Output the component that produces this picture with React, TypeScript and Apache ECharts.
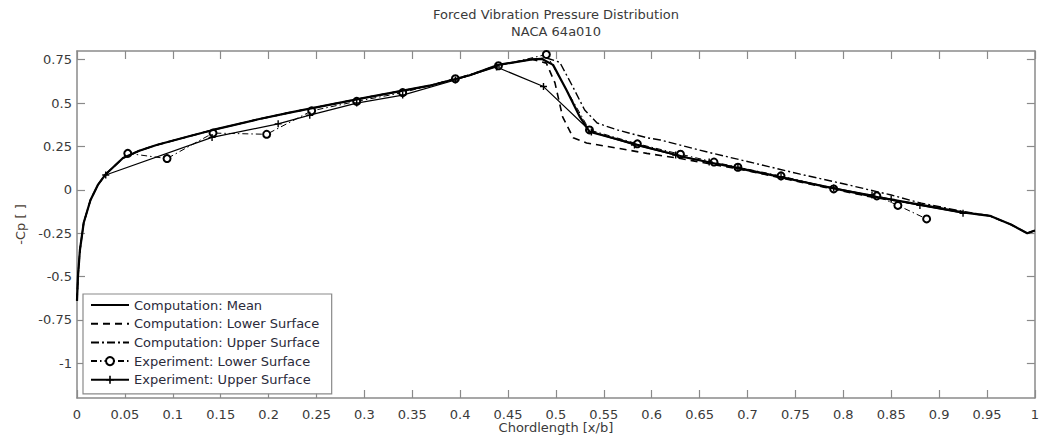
import React, { useEffect, useRef } from "react";
import * as echarts from "echarts";

const titleText = "Forced Vibration Pressure Distribution";
const subtitleText = "NACA 64a010";
const xAxisName = "Chordlength [x/b]";
const yAxisName = "-Cp [ ]";

const xTicks = [0, 0.05, 0.1, 0.15, 0.2, 0.25, 0.3, 0.35, 0.4, 0.45, 0.5, 0.55, 0.6, 0.65, 0.7, 0.75, 0.8, 0.85, 0.9, 0.95, 1];
const yTicks = [-1, -0.75, -0.5, -0.25, 0, 0.25, 0.5, 0.75];

const seriesNames = [
  "Computation: Mean",
  "Computation: Lower Surface",
  "Computation: Upper Surface",
  "Experiment: Lower Surface",
  "Experiment: Upper Surface",
];

// shared front part of the computed curves
const compFront: [number, number][] = [
  [0, -0.64], [0.001, -0.5], [0.003, -0.35], [0.007, -0.19], [0.014, -0.06],
  [0.022, 0.03], [0.03, 0.09], [0.048, 0.183], [0.065, 0.225], [0.083, 0.258],
  [0.118, 0.31], [0.142, 0.345], [0.188, 0.405], [0.222, 0.445], [0.243, 0.468],
  [0.3, 0.53], [0.368, 0.6], [0.41, 0.66], [0.44, 0.72], [0.475, 0.752],
];

const compMeanAft: [number, number][] = [
  [0.485, 0.755], [0.497, 0.72], [0.511, 0.575], [0.525, 0.42], [0.535, 0.335],
  [0.585, 0.26], [0.637, 0.185], [0.685, 0.13], [0.734, 0.074], [0.78, 0.02],
  [0.828, -0.035], [0.88, -0.085], [0.925, -0.13], [0.953, -0.15], [0.975, -0.2],
  [0.992, -0.25], [1.0, -0.235],
];

const compLowerAft: [number, number][] = [
  [0.49, 0.73], [0.499, 0.616], [0.507, 0.42], [0.518, 0.3], [0.532, 0.27],
  [0.564, 0.24], [0.595, 0.21], [0.63, 0.18], [0.66, 0.15], [0.7, 0.11],
  [0.734, 0.07], [0.78, 0.015], [0.828, -0.04], [0.88, -0.085], [0.925, -0.13],
  [0.953, -0.15], [0.975, -0.2], [0.992, -0.25], [1.0, -0.235],
];

const compUpperAft: [number, number][] = [
  [0.49, 0.76], [0.504, 0.735], [0.518, 0.59], [0.53, 0.46], [0.543, 0.385],
  [0.564, 0.345], [0.595, 0.3], [0.609, 0.287], [0.66, 0.215], [0.706, 0.155],
  [0.755, 0.09], [0.8, 0.035], [0.85, -0.03], [0.88, -0.075], [0.925, -0.125],
  [0.953, -0.15], [0.975, -0.2], [0.992, -0.25], [1.0, -0.235],
];

const expLower: [number, number][] = [
  [0.053, 0.21], [0.094, 0.18], [0.142, 0.327], [0.198, 0.32], [0.245, 0.455],
  [0.292, 0.51], [0.34, 0.56], [0.395, 0.64], [0.44, 0.715], [0.49, 0.78],
  [0.535, 0.345], [0.585, 0.265], [0.63, 0.205], [0.665, 0.16], [0.69, 0.13],
  [0.735, 0.08], [0.79, 0.005], [0.835, -0.035], [0.857, -0.09], [0.887, -0.168],
];

const expUpper: [number, number][] = [
  [0.03, 0.085], [0.141, 0.302], [0.21, 0.38], [0.243, 0.43], [0.292, 0.5],
  [0.34, 0.546], [0.395, 0.633], [0.438, 0.708], [0.487, 0.595], [0.537, 0.333],
  [0.582, 0.258], [0.625, 0.2], [0.66, 0.16], [0.69, 0.13], [0.735, 0.075],
  [0.79, 0.01], [0.83, -0.03], [0.85, -0.055], [0.88, -0.09], [0.925, -0.135],
];

const FONT = "'DejaVu Sans', Verdana, sans-serif";
const AXIS_COLOR = "#8a8a8a";
const TEXT_COLOR = "#3a3a3a";
const PLUS = "path://M4,0H6V4H10V6H6V10H4V6H0V4H4Z";

export default function App() {
  const ref = useRef<HTMLDivElement>(null);

  useEffect(() => {
    if (!ref.current) return;
    const chart = echarts.init(ref.current, null, { renderer: "svg" });

    const fmt = (v: number) => String(Math.round(v * 100) / 100);

    const frameAxis = {
      type: "value",
      axisLine: { show: true, onZero: false, lineStyle: { color: AXIS_COLOR, width: 1.5 } },
      splitLine: { show: false },
    };

    const tick = { show: true, inside: true, length: 8, lineStyle: { color: AXIS_COLOR, width: 1.2 } };

    const option: any = {
      animation: false,
      backgroundColor: "#ffffff",
      textStyle: { fontFamily: FONT },
      title: {
        text: titleText + "\n" + subtitleText,
        left: 556,
        top: 6,
        padding: 0,
        textAlign: "center",
        textStyle: {
          fontFamily: FONT,
          fontSize: 13,
          fontWeight: "normal",
          color: TEXT_COLOR,
          lineHeight: 17,
        },
      },
      grid: { left: 77, right: 7, top: 51, bottom: 45, containLabel: false },
      legend: {
        orient: "vertical",
        left: 83,
        top: 294,
        align: "left",
        padding: [4, 12, 7, 7],
        itemWidth: 38,
        itemHeight: 10,
        itemGap: 4.7,
        backgroundColor: "#ffffff",
        borderColor: AXIS_COLOR,
        borderWidth: 1.2,
        borderRadius: 0,
        data: [
          { name: seriesNames[0], itemStyle: { opacity: 0 } },
          { name: seriesNames[1], itemStyle: { opacity: 0 } },
          { name: seriesNames[2], itemStyle: { opacity: 0 } },
          { name: seriesNames[3] },
          { name: seriesNames[4] },
        ],
        textStyle: { fontFamily: FONT, fontSize: 13, lineHeight: 14, color: "#2a2a3a" },
      },
      xAxis: [
        {
          ...frameAxis,
          position: "bottom",
          min: 0,
          max: 1,
          name: xAxisName,
          nameLocation: "middle",
          nameGap: 23,
          nameMoveOverlap: false,
          nameTextStyle: { fontFamily: FONT, fontSize: 13, color: TEXT_COLOR },
          axisTick: { ...tick, customValues: xTicks },
          axisLabel: { show: true, customValues: xTicks, formatter: fmt, margin: 10, fontFamily: FONT, fontSize: 13, color: TEXT_COLOR },
        },
        {
          ...frameAxis,
          position: "top",
          min: 0,
          max: 1,
          axisTick: { ...tick, customValues: xTicks },
          axisLabel: { show: false },
        },
      ],
      yAxis: [
        {
          ...frameAxis,
          position: "left",
          min: -1.2,
          max: 0.8,
          name: yAxisName,
          nameLocation: "middle",
          nameGap: 44,
          nameTextStyle: { fontFamily: FONT, fontSize: 13, color: "#4a4036" },
          axisTick: { ...tick, customValues: yTicks },
          axisLabel: { show: true, customValues: yTicks, formatter: fmt, margin: 5, fontFamily: FONT, fontSize: 13, color: TEXT_COLOR },
        },
        {
          ...frameAxis,
          position: "right",
          min: -1.2,
          max: 0.8,
          axisTick: { ...tick, customValues: yTicks },
          axisLabel: { show: false },
        },
      ],
      series: [
        {
          name: seriesNames[0],
          type: "line",
          data: [...compFront, ...compMeanAft],
          symbol: "none",
          z: 5,
          lineStyle: { color: "#000", width: 2.2, type: "solid" },
          itemStyle: { color: "#000" },
        },
        {
          name: seriesNames[1],
          type: "line",
          data: [...compFront, ...compLowerAft],
          symbol: "none",
          lineStyle: { color: "#000", width: 1.6, type: [7, 5] },
          itemStyle: { color: "#000" },
        },
        {
          name: seriesNames[2],
          type: "line",
          data: [...compFront, ...compUpperAft],
          symbol: "none",
          lineStyle: { color: "#000", width: 1.4, type: [8, 3, 2, 3] },
          itemStyle: { color: "#000" },
        },
        {
          name: seriesNames[3],
          type: "line",
          data: expLower,
          symbol: "emptyCircle",
          symbolSize: 7,
          lineStyle: { color: "#000", width: 1, type: [6, 3, 1.5, 3] },
          itemStyle: { color: "#000", borderWidth: 1.3 },
        },
        {
          name: seriesNames[4],
          type: "line",
          data: expUpper,
          symbol: PLUS,
          symbolSize: 7,
          lineStyle: { color: "#000", width: 1.2, type: "solid" },
          itemStyle: { color: "#000" },
        },
      ],
    };

    chart.setOption(option);
    return () => chart.dispose();
  }, []);

  return (
    <div
      ref={ref}
      style={{ position: "fixed", left: 0, top: 0, width: 1042, height: 443, background: "#fff" }}
    />
  );
}
